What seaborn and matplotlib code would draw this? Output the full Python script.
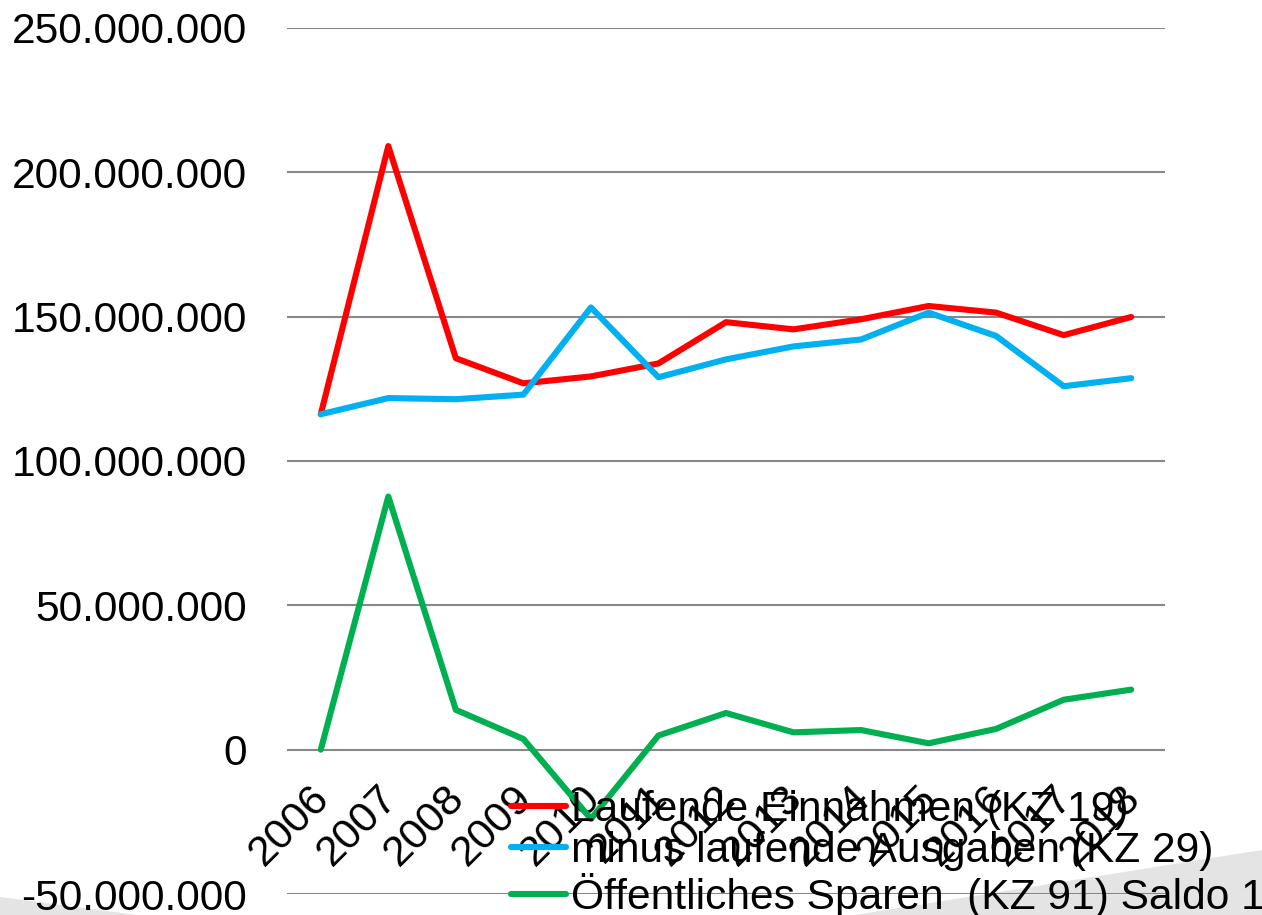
import matplotlib
matplotlib.use("Agg")
import matplotlib.pyplot as plt
import matplotlib.transforms as mtransforms
import numpy as np
import pandas as pd
import seaborn as sns
from matplotlib.patches import Polygon
from matplotlib.lines import Line2D
from matplotlib.ticker import FuncFormatter, MultipleLocator

# ---- data (values in millions) ----
years = [2006, 2007, 2008, 2009, 2010, 2011, 2012, 2013, 2014, 2015, 2016, 2017, 2018]
einnahmen = [116.2, 209.1, 135.6, 126.9, 129.3, 133.8, 148.1, 145.6, 149.1, 153.7, 151.4, 143.6, 149.9]
ausgaben = [116.2, 121.8, 121.4, 123.0, 153.2, 129.0, 135.2, 139.7, 142.1, 151.4, 143.3, 125.9, 128.7]
sparen = [0.0, 87.7, 13.8, 3.7, -24.0, 4.9, 12.7, 6.0, 6.8, 2.2, 7.2, 17.3, 20.8]

series_names = [
    "Laufende Einnahmen (KZ 19)",
    "minus laufende Ausgaben (KZ 29)",
    "Öffentliches Sparen  (KZ 91) Saldo 1",
]
series_values = [einnahmen, ausgaben, sparen]
colors = ["#FF0000", "#00B0F0", "#00B050"]

rows = []
for name, vals in zip(series_names, series_values):
    for i, (yr, v) in enumerate(zip(years, vals)):
        rows.append({"pos": i, "year": yr, "value": v * 1e6, "series": name})
df = pd.DataFrame(rows)

sns.set_style("white")
plt.rcParams["font.family"] = ["Liberation Sans", "DejaVu Sans"]
plt.rcParams["text.color"] = "black"
plt.rcParams["xtick.color"] = "black"
plt.rcParams["ytick.color"] = "black"

fig = plt.figure(figsize=(12.62, 9.15), dpi=100)
W, H = 1262, 915
ax = fig.add_axes([287 / W, 1 - 894 / H, (1165 - 287) / W, (894 - 28) / H])
ax.patch.set_alpha(0)

# decorative background wedges
grey = "#E4E4E4"
fig.patches.append(Polygon([(0, 1 - 897 / H), (137 / W, 0), (0, 0)], closed=True,
                           transform=fig.transFigure, facecolor=grey, edgecolor="none", zorder=-5))
fig.patches.append(Polygon([(855 / W, 0), (1, 1 - 850 / H), (1, 0)], closed=True,
                           transform=fig.transFigure, facecolor=grey, edgecolor="none", zorder=-5))

sns.lineplot(data=df, x="pos", y="value", hue="series", palette=colors,
             hue_order=series_names, linewidth=4.4, ax=ax, legend=False, zorder=3)

ax.set_xlim(-0.5, len(years) - 0.5)
ax.set_ylim(-50e6, 250e6)
ax.yaxis.set_major_locator(MultipleLocator(50e6))
ax.yaxis.set_major_formatter(FuncFormatter(lambda v, p: f"{int(round(v)):,}".replace(",", ".")))
ax.grid(axis="y", color="#888888", linewidth=1.5)
ax.grid(axis="x", visible=False)
ax.set_axisbelow(True)

for s in ["top", "right", "left"]:
    ax.spines[s].set_visible(False)
ax.spines["bottom"].set_position(("data", 0))
ax.spines["bottom"].set_visible(False)

ax.set_xticks(range(len(years)))
ax.set_xticklabels([str(y) for y in years], rotation=45, ha="right")
ax.tick_params(axis="x", length=0, pad=20, labelsize=30.8)
ax.tick_params(axis="y", length=0, pad=29, labelsize=30.6)
offset = mtransforms.ScaledTranslation(17 / 100, 0, fig.dpi_scale_trans)
for lab in ax.get_xticklabels():
    lab.set_transform(lab.get_transform() + offset)
ax.set_xlabel("")
ax.set_ylabel("")

handles = [Line2D([], [], color=c, linewidth=4.4) for c in colors]
leg = fig.legend(handles, series_names, loc="upper left",
                 bbox_to_anchor=(511 / W, 1 - 790 / H), frameon=False,
                 fontsize=30.6, borderpad=0, borderaxespad=0, labelspacing=0.03,
                 handlelength=1.3, handletextpad=0.12)
leg.set_zorder(10)

fig.savefig("out.png", dpi=100)
